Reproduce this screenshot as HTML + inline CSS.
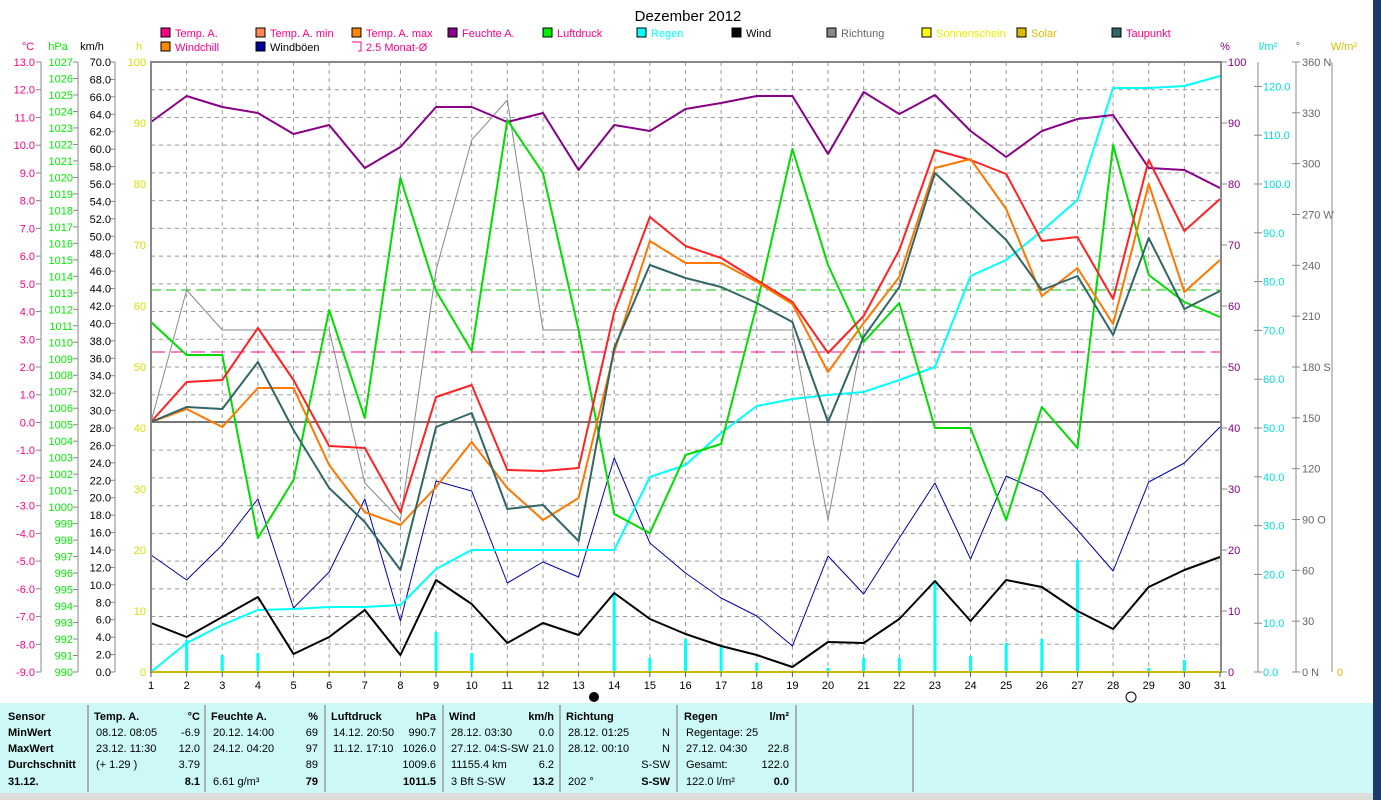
<!DOCTYPE html>
<html><head><meta charset="utf-8"><style>
body{margin:0;background:#fff;width:1381px;height:800px;overflow:hidden;font-family:"Liberation Sans",sans-serif}
svg{position:absolute;left:0;top:0}
</style></head><body>
<svg id="s" width="1381" height="800" xmlns="http://www.w3.org/2000/svg" font-family="Liberation Sans, sans-serif" font-size="12">
<rect x="0" y="0" width="1381" height="800" fill="#fff"/>
<rect x="1373" y="0" width="8" height="800" fill="#1a3a6a"/>
<text x="688" y="21" font-size="15" text-anchor="middle" fill="#000">Dezember 2012</text>
<g id="g"></g>
</svg>
<script>
const NS="http://www.w3.org/2000/svg",g=document.getElementById('g');
function el(t,a,txt){const e=document.createElementNS(NS,t);for(const k in a)e.setAttribute(k,a[k]);if(txt!==undefined)e.textContent=txt;g.appendChild(e);return e;}
const X0=151,X1=1221,T=62,B=672,dx=(1220-151)/30;
const X=d=>151+(d-1)*dx;
// grid
for(let d=2;d<=30;d++)el('line',{x1:X(d),x2:X(d),y1:T,y2:B,stroke:'#999','stroke-dasharray':'4,4'});
for(let i=1;i<22;i++){const y=T+i*610/22;el('line',{x1:X0,x2:X1,y1:y,y2:y,stroke:'#999','stroke-dasharray':'4,4'});}
el('line',{x1:X0,x2:X1,y1:422,y2:422,stroke:'#777','stroke-width':2});
el('line',{x1:X0,x2:X1,y1:290,y2:290,stroke:'#0c0','stroke-dasharray':'10,5'});
el('line',{x1:X0,x2:X1,y1:352,y2:352,stroke:'#f08','stroke-dasharray':'14,6'});
// rain bars
const bars={2:640,3:655,4:653,9:632,10:653,14:594,15:658,16:639,17:645,18:663,20:668,21:658,22:658,23:580,24:656,25:643,26:639,27:560,29:668,30:660};
for(const d in bars)el('rect',{x:X(+d)-1.5,y:bars[d],width:3,height:B-bars[d],fill:'#0ff'});
function line(v,c,w){el('polyline',{points:v.map((y,i)=>X(i+1)+','+y).join(' '),fill:'none',stroke:c,'stroke-width':w||2,'stroke-linejoin':'round'});}
line([422,290,330,330,330,330,483,520,270,140,100,330,330,330,330,330,330,330,330,520,330,330,330,330,330,330,330,330,330,330,330],'#888',1);
line([555,580,545,499,608,572,499,621,481,491,583,562,577,458,543,573,598,616,646,556,594,538,483,559,476,492,530,571,482,463,427],'#00a',1);
line([672,643,625,610,609,607,607,605,569,550,550,550,550,550,477,465,433,406,399,395,392,380,367,276,260,231,200,88,88,86,76],'#0ff',2);
line([623,637,617,597,654,637,610,655,580,604,643,623,635,593,619,634,646,655,667,642,643,619,581,621,580,587,611,629,587,570,557],'#000',2);
line([122,96,107,113,134,125,168,147,107,107,122,113,170,125,131,109,103,96,96,154,92,114,95,131,157,131,119,115,168,170,188],'#808',2);
line([322,355,355,538,480,310,418,178,291,351,120,173,330,514,533,455,444,305,149,265,342,303,428,428,520,407,448,145,275,302,317],'#0d0',2);
line([422,382,380,328,380,446,448,512,397,385,470,471,468,312,217,246,258,280,302,353,316,250,150,160,174,241,237,299,160,231,199],'#f22',2);
line([422,409,427,388,388,465,512,525,487,442,488,520,498,352,241,263,263,282,304,372,323,277,168,159,209,296,268,324,184,292,260],'#f70',2);
line([422,407,409,362,430,488,522,570,427,413,509,505,541,348,265,278,287,303,322,422,337,287,173,206,240,290,276,335,238,309,291],'#366',2);
// frame
el('rect',{x:X0,y:T,width:X1-X0,height:B-T,fill:'none',stroke:'#888','stroke-width':2});
el('line',{x1:X0,x2:X1,y1:B,y2:B,stroke:'#cb0','stroke-width':2});
// x labels
for(let d=1;d<=31;d++){el('line',{x1:X(d),x2:X(d),y1:B,y2:B+5,stroke:'#555'});el('text',{x:X(d),y:689,'text-anchor':'middle','font-size':11},d);}
el('circle',{cx:594,cy:697,r:5,fill:'#000'});el('circle',{cx:1131,cy:697,r:5,fill:'none',stroke:'#000'});
// left axes
function axis(xl,n,y0,step,fmt,col,tx){el('line',{x1:xl,x2:xl,y1:T,y2:B,stroke:'#888'});
 for(let i=0;i<n;i++){const y=y0+i*step;el('line',{x1:xl-5,x2:xl,y1:y,y2:y,stroke:'#888'});el('text',{x:tx,y:y+4,'text-anchor':'end',fill:col,'font-size':11},fmt(i));}}
axis(41,23,T,610/22,i=>(13-i).toFixed(1),'#f08',35);
axis(78,38,T,610/37,i=>1027-i,'#0e0',73);
axis(115,36,T,610/35,i=>(70-2*i).toFixed(1),'#000',111);
for(let i=0;i<11;i++){el('text',{x:146,y:T+i*61+4,'text-anchor':'end',fill:'#dd0','font-size':11},100-10*i);}
// right axes
for(let i=0;i<11;i++){const y=T+i*61;el('line',{x1:1221,x2:1227,y1:y,y2:y,stroke:'#888'});el('text',{x:1228,y:y+4,fill:'#808','font-size':11},100-10*i);}
el('line',{x1:1258,x2:1258,y1:T,y2:B,stroke:'#888'});
for(let i=0;i<13;i++){const y=B-i*610/125*10;el('line',{x1:1254,x2:1262,y1:y,y2:y,stroke:'#888'});el('text',{x:1263,y:y+4,fill:'#0dd','font-size':11},(i*10).toFixed(1));}
el('line',{x1:1296,x2:1296,y1:T,y2:B,stroke:'#888'});
const dl={360:' N',270:' W',180:' S',90:' O',0:' N'};
for(let i=0;i<13;i++){const v=i*30,y=B-v*610/360;el('line',{x1:1292,x2:1300,y1:y,y2:y,stroke:'#888'});el('text',{x:1302,y:y+4,fill:'#666','font-size':11},v+(dl[v]||''));}
el('line',{x1:1332,x2:1332,y1:T,y2:B,stroke:'#888'});el('text',{x:1337,y:676,fill:'#db0','font-size':11},'0');
// unit headers
[[28,'°C','#f08'],[58,'hPa','#0e0'],[92,'km/h','#000'],[139,'h','#dd0'],[1225,'%','#808'],[1268,'l/m²','#0dd'],[1298,'°','#666'],[1344,'W/m²','#db0']].forEach(a=>el('text',{x:a[0],y:50,'text-anchor':'middle',fill:a[2],'font-size':11},a[1]));
// legend
const L=[[161,37,'#f08','Temp. A.','#f08'],[256,37,'#f85','Temp. A. min','#f08'],[352,37,'#f80','Temp. A. max','#f08'],[448,37,'#808','Feuchte A.','#f08'],[543,37,'#0e0','Luftdruck','#f08'],[637,37,'#0ff','Regen','#0ff'],[732,37,'#000','Wind','#000'],[827,37,'#888','Richtung','#666'],[922,37,'#ff0','Sonnenschein','#ee0'],[1017,37,'#db0','Solar','#db0'],[1112,37,'#366','Taupunkt','#f08'],[161,51,'#f80','Windchill','#f08'],[256,51,'#009','Windböen','#000']];
L.forEach(a=>{el('rect',{x:a[0],y:a[1]-9,width:9,height:9,fill:a[2],stroke:'#000'});el('text',{x:a[0]+14,y:a[1],fill:a[4],'font-size':11},a[3]);});
el('path',{d:'M352 42h9v9h-3',fill:'none',stroke:'#f08'});el('text',{x:366,y:51,fill:'#f08','font-size':11},'2.5 Monat-Ø');
// table
el('rect',{x:0,y:703,width:1373,height:90,fill:'#ccf8f8'});
el('rect',{x:0,y:793,width:1373,height:7,fill:'#ddd'});
[88,205,325,443,560,677,796,913].forEach(x=>el('line',{x1:x,x2:x,y1:705,y2:792,stroke:'#999',"stroke-width":1.5}));
const rows=[720,736,752,768,785];
function t(x,r,s,b,a){el('text',{x:x,y:rows[r],'font-size':11,'font-weight':b?'bold':'normal','text-anchor':a||'start'},s);}
['Sensor','MinWert','MaxWert','Durchschnitt','31.12.'].forEach((s,i)=>t(8,i,s,1));
const cols=[[94,200,'Temp. A.','°C',['08.12.  08:05','-6.9'],['23.12.  11:30','12.0'],[' (+ 1.29 )','3.79'],['','8.1']],
[211,318,'Feuchte A.','%',['20.12.  14:00','69'],['24.12.  04:20','97'],['','89'],['6.61 g/m³','79']],
[331,436,'Luftdruck','hPa',['14.12.  20:50','990.7'],['11.12.  17:10','1026.0'],['','1009.6'],['','1011.5']],
[449,554,'Wind','km/h',['28.12.  03:30','0.0'],['27.12.  04:S-SW','21.0'],['11155.4 km','6.2'],['3 Bft S-SW','13.2']],
[566,670,'Richtung','',['28.12.  01:25','N'],['28.12.  00:10','N'],['','S-SW'],['202 °','S-SW']],
[684,789,'Regen','l/m²',['Regentage: 25',''],['27.12.  04:30','22.8'],['Gesamt:','122.0'],['122.0 l/m²','0.0']]];
cols.forEach(c=>{t(c[0],0,c[2],1);t(c[1],0,c[3],1,'end');for(let r=1;r<5;r++){t(c[0]+2,r,c[r+3][0]);t(c[1],r,c[r+3][1],r==4,'end');}});
</script>
</body></html>
